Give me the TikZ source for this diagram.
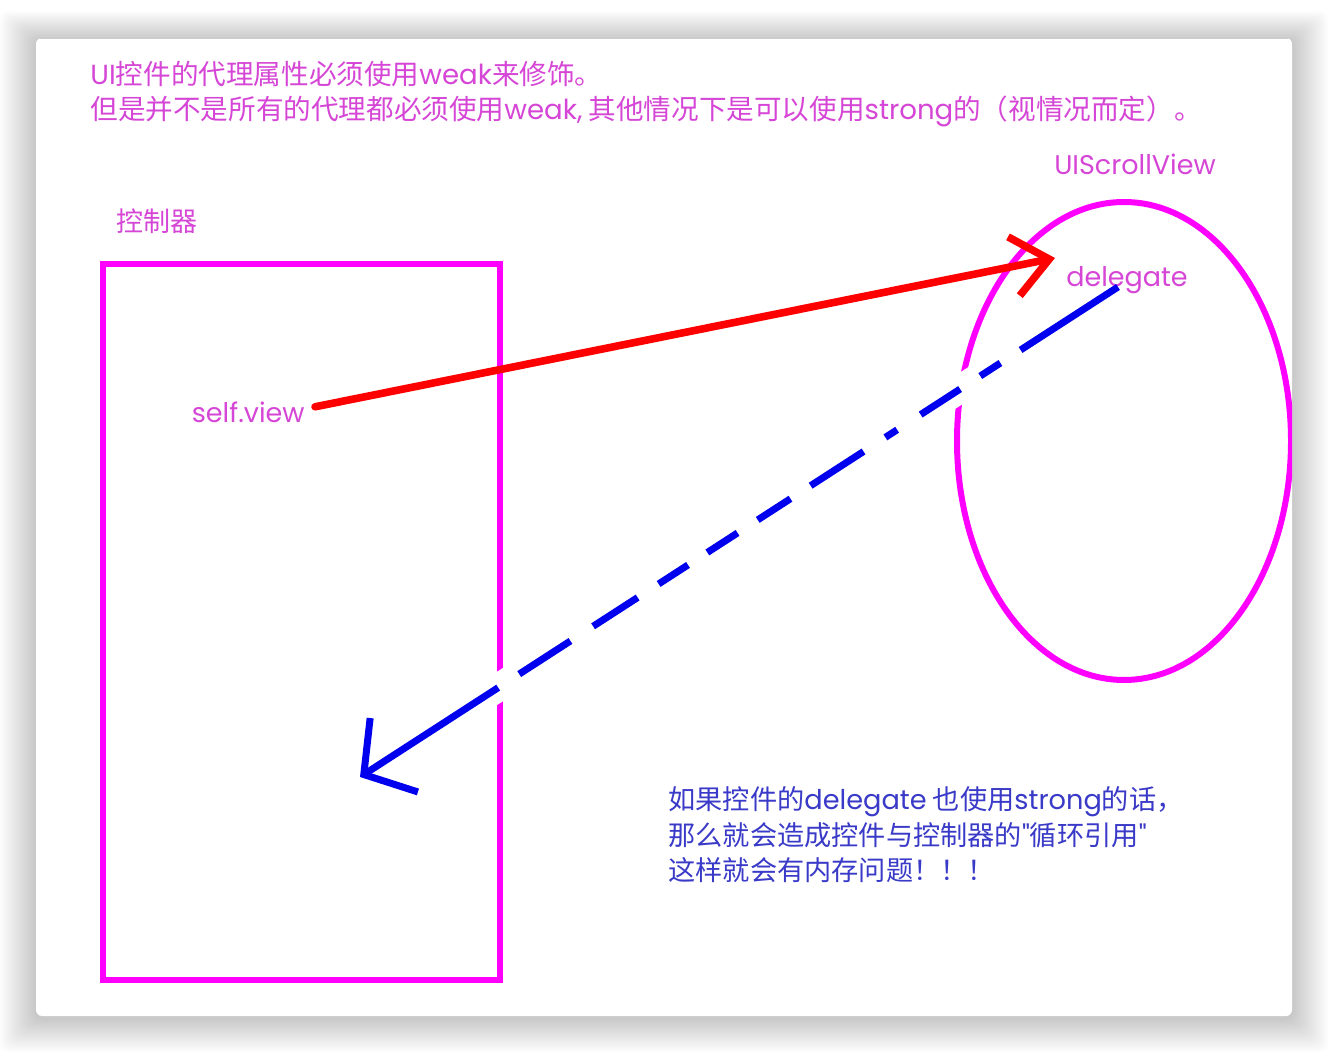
\documentclass[tikz,border=0pt]{standalone}
\usepackage{fontspec}
\setmainfont{Noto Sans CJK SC}
\newfontfamily\latin{Poppins}
\usetikzlibrary{arrows.meta}
\definecolor{notepink}{HTML}{D646D6}
\definecolor{boxpink}{HTML}{FF00FF}
\definecolor{strongred}{HTML}{FF0000}
\definecolor{weakblue}{HTML}{0000EE}
\definecolor{noteblue}{HTML}{3A3AC8}

\begin{document}
\begin{tikzpicture}[x=0.5pt,y=-0.5pt,
    title/.style={anchor=base west,inner sep=0pt,text=notepink,font=\fontsize{13.8}{16}\selectfont},
    warn/.style={anchor=base west,inner sep=0pt,text=noteblue,font=\fontsize{13.6}{16}\selectfont},
    tag/.style={anchor=base,inner sep=2pt,text=notepink,font=\fontsize{13.5}{16}\selectfont},
    outline/.style={boxpink,line width=3pt},
    strongarrow/.style={strongred,line width=3.8pt,line cap=round,-{Straight Barb[length=18pt,width=30pt]}},
    weakarrow/.style={weakblue,line width=3.5pt,-{Straight Barb[length=18pt,width=44pt]},
      dash pattern=on 58pt off 12pt on 12pt off 12pt on 23.5pt off 14pt on 7pt off 13pt on 31.5pt off 12pt
        on 19.5pt off 12pt on 18pt off 11.5pt on 17.5pt off 12.5pt on 26.5pt off 13.5pt on 30.5pt off 12.5pt on 140pt off 10pt}]
  \useasboundingbox (0,0) rectangle (1328,1052);
  % window and its shadow
  \fill[white] (0,0) rectangle (1328,1052);
  \foreach \i in {1,...,18} { \fill[black,opacity=0.011,rounded corners=4pt] (36-2*\i,40-1.6*\i) rectangle (1292+2*\i,1018+1.9*\i); }
  \fill[white,rounded corners=3pt] (36,38) rectangle (1292,1016);
  \draw[gray!40,line width=1pt] (40,38.5) -- (1288,38.5);

  \node[title] (title1) at (90,85) {{\latin UI}控件的代理属性必须使用{\latin weak}来修饰。};
  \node[title] (title2) at (90,120) {但是并不是所有的代理都必须使用{\latin weak,} 其他情况下是可以使用{\latin strong}的（视情况而定）。};

  \node[tag] (ctrltag) at (157,232) {控制器};
  \node[tag] (scrolltag) at (1135,175) {\latin UIScrollView};
  \node[tag,anchor=base east] (selfview) at (309,423) {\latin self.view};
  \node[tag] (delegate) at (1127,287) {\latin delegate};

  \node[warn] (warn1) at (668,810) {如果控件的{\latin delegate} 也使用{\latin strong}的话，};
  \node[warn] (warn2) at (668,845) {那么就会造成控件与控制器的{\latin "}循环引用{\latin "}};
  \node[warn] (warn3) at (668,880) {这样就会有内存问题！！！};

  \coordinate (hit) at (1055,258);
  \coordinate (back) at (360,777);

  \begin{scope}
    \clip (36,38) rectangle (1292,1016);
    \draw[outline] (103,264) rectangle (500,980);
    \draw[outline] (1124,441) ellipse [x radius=83.5pt,y radius=119.5pt];
    % gaps where the weak line crosses
    \draw[white,line width=14pt,shorten <=60pt,shorten >=60pt] ([xshift=-4.5pt]delegate.base) -- (back);
    \draw[weakarrow] ([xshift=-4.5pt]delegate.base) -- (back);
    \draw[strongarrow] ([shift={(3pt,3pt)}]selfview.east) -- (hit);
  \end{scope}
\end{tikzpicture}
\end{document}
